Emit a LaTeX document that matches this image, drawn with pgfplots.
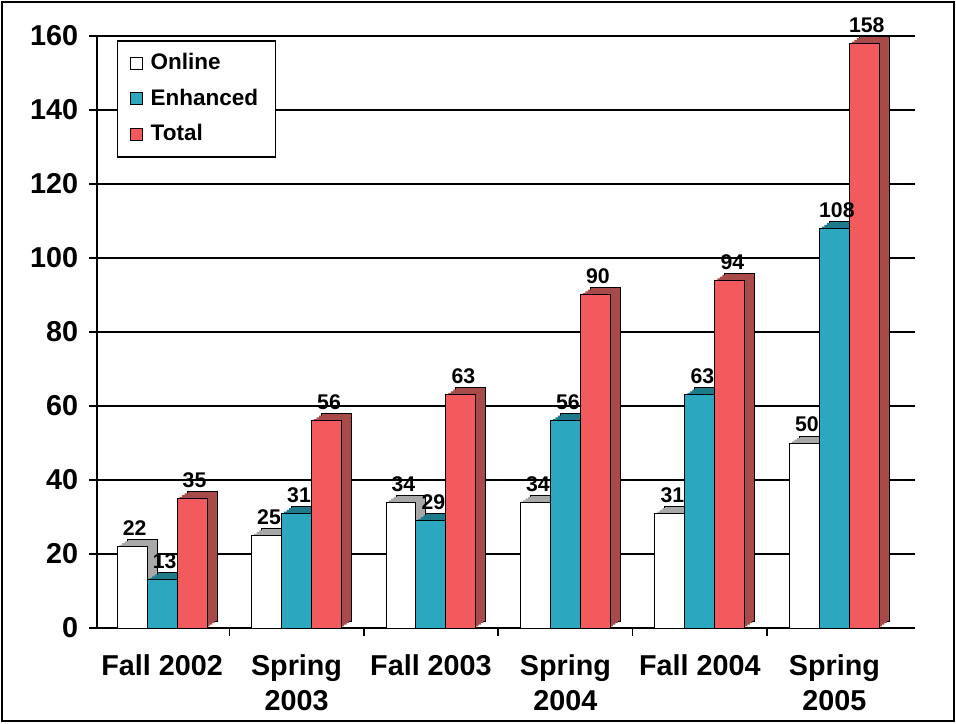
\documentclass[border=0pt]{standalone}
\usepackage{pgfplots}
\pgfplotsset{compat=1.18}
\usepackage{fontspec}
\setmainfont{Liberation Sans}
\definecolor{cwhite}{HTML}{FFFFFF}
\definecolor{cwhiteS}{HTML}{A8A8A8}
\definecolor{cteal}{HTML}{2BA8BF}
\definecolor{ctealS}{HTML}{1E7B8B}
\definecolor{cred}{HTML}{F25A5E}
\definecolor{credS}{HTML}{A84A4A}
\pgfplotstableread{
x y
-0.223 22
0.777 25
1.777 34
2.777 34
3.777 31
4.777 50
}\online
\pgfplotstableread{
x y
0 13
1 31
2 29
3 56
4 63
5 108
}\enhanced
\pgfplotstableread{
x y
0.223 35
1.223 56
2.223 63
3.223 90
4.223 94
5.223 158
}\total
\begin{document}
\begin{tikzpicture}
\path[use as bounding box] (-38.8pt,-38pt) rectangle (343.6pt,251.2pt);
\draw[line width=0.8pt] (-38.0pt,-37.2pt) rectangle (342.8pt,250.4pt);
\begin{axis}[
  at={(0,0)}, anchor=south west,
  scale only axis, width=327.2pt, height=236.8pt,
  xmin=-0.484, xmax=5.60, ymin=0, ymax=160,
  axis x line*=bottom, axis y line*=left,
  axis line style={black, line width=0.6pt},
  ytick={0,20,...,160},
  xtick={0,1,2,3,4,5},
  xticklabels={Fall 2002,Spring\\2003,Fall 2003,Spring\\2004,Fall 2004,Spring\\2005},
  minor xtick={-0.5,0.5,1.5,2.5,3.5,4.5},
  major x tick style={draw=none},
  tick align=outside,
  major tick length=3pt, minor tick length=3pt,
  tick style={black, line width=0.6pt},
  ymajorgrids, grid style={black, line width=0.5pt},
  /pgf/number format/assume math mode=true,
  yticklabel style={font=\bfseries\fontsize{11.5}{13}\selectfont, xshift=-1pt},
  xticklabel style={font=\bfseries\fontsize{11.5}{14}\selectfont, align=center, yshift=-4pt},
  ybar, bar width=0.223, bar shift=0pt,
  nodes near coords style={font=\bfseries\fontsize{8.5}{9}\selectfont, yshift=0.8pt, xshift=1pt},
  legend style={at={(0.0244,0.993)}, anchor=north west, draw=black, line width=0.6pt,
    font=\bfseries\fontsize{9}{10}\selectfont, row sep=2.2pt, inner xsep=5pt, inner ysep=3pt,
    cells={anchor=west}, /tikz/every odd column/.append style={column sep=1pt}},
  legend image code/.code={\draw[#1, line width=0.4pt] (0.5pt,-2.4pt) rectangle (5.3pt,2.4pt);},
  clip=false,
  sh/.style={forget plot, fill=#1, draw=none},
]
% Online
\addplot[forget plot, fill=cwhiteS, draw=black, line width=0.4pt, xshift=4pt, yshift=2.8pt] table {\online};
\addplot[sh=cwhiteS, xshift=3pt, yshift=2.1pt] table {\online};
\addplot[sh=cwhiteS, xshift=2pt, yshift=1.4pt] table {\online};
\addplot[sh=cwhiteS, xshift=1pt, yshift=0.7pt] table {\online};
\addplot[fill=cwhite, draw=black, line width=0.4pt, nodes near coords] table {\online};
\addlegendentry{Online}
% Enhanced
\addplot[forget plot, fill=ctealS, draw=black, line width=0.4pt, xshift=4pt, yshift=2.8pt] table {\enhanced};
\addplot[sh=ctealS, xshift=3pt, yshift=2.1pt] table {\enhanced};
\addplot[sh=ctealS, xshift=2pt, yshift=1.4pt] table {\enhanced};
\addplot[sh=ctealS, xshift=1pt, yshift=0.7pt] table {\enhanced};
\addplot[fill=cteal, draw=black, line width=0.4pt, nodes near coords] table {\enhanced};
\addlegendentry{Enhanced}
% Total
\addplot[forget plot, fill=credS, draw=black, line width=0.4pt, xshift=4pt, yshift=2.8pt] table {\total};
\addplot[sh=credS, xshift=3pt, yshift=2.1pt] table {\total};
\addplot[sh=credS, xshift=2pt, yshift=1.4pt] table {\total};
\addplot[sh=credS, xshift=1pt, yshift=0.7pt] table {\total};
\addplot[fill=cred, draw=black, line width=0.4pt, nodes near coords] table {\total};
\addlegendentry{Total}
\end{axis}
\end{tikzpicture}
\end{document}
